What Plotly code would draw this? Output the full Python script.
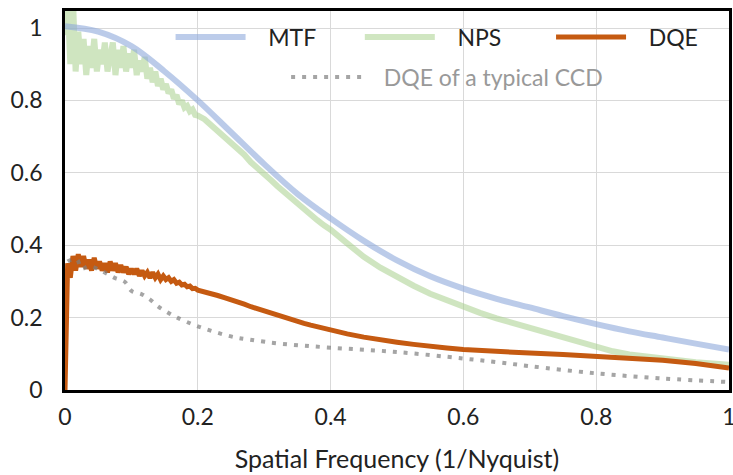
import plotly.graph_objects as go

# ---------------- data ----------------
mtf_x = [0, 0.05, 0.1, 0.15, 0.2, 0.25, 0.3, 0.35, 0.4, 0.45, 0.5, 0.55, 0.6,
         0.65, 0.7, 0.75, 0.8, 0.85, 0.9, 0.95, 1.0]
mtf_y = [1.005, 0.99, 0.95, 0.88, 0.80, 0.712, 0.624, 0.542, 0.474, 0.412, 0.358,
         0.314, 0.280, 0.252, 0.228, 0.204, 0.182, 0.162, 0.145, 0.128, 0.112]

nps_x = [0.000, 0.004, 0.008, 0.012, 0.016, 0.020, 0.024, 0.028, 0.032, 0.036,
         0.040, 0.044, 0.048, 0.052, 0.056, 0.060, 0.064, 0.068, 0.072, 0.076,
         0.080, 0.084, 0.088, 0.092, 0.096, 0.100, 0.104, 0.108, 0.112, 0.116,
         0.120, 0.124, 0.128, 0.132, 0.136, 0.140, 0.144, 0.148, 0.152, 0.156,
         0.160, 0.164, 0.168, 0.172, 0.176, 0.180, 0.184, 0.188, 0.192, 0.196,
         0.200, 0.21, 0.22, 0.23, 0.24, 0.25, 0.26, 0.27, 0.28, 0.29,
         0.30, 0.31, 0.32, 0.33, 0.34, 0.35, 0.36, 0.37, 0.38, 0.39,
         0.40, 0.425, 0.45, 0.475, 0.5, 0.525, 0.55, 0.575, 0.6, 0.625,
         0.65, 0.675, 0.7, 0.725, 0.75, 0.775, 0.8, 0.825, 0.85, 0.875,
         0.9, 0.925, 0.95, 0.975, 1.0]
nps_y = [0.98, 1.07, 0.90, 1.08, 0.88, 0.99, 0.90, 0.97, 0.87, 0.95,
         0.89, 0.97, 0.88, 0.94, 0.90, 0.96, 0.88, 0.93, 0.96, 0.87,
         0.94, 0.89, 0.95, 0.88, 0.93, 0.89, 0.94, 0.87, 0.91, 0.88,
         0.92, 0.86, 0.89, 0.85, 0.88, 0.84, 0.86, 0.83, 0.845, 0.82,
         0.83, 0.805, 0.815, 0.79, 0.80, 0.78, 0.785, 0.77, 0.775, 0.76,
         0.758, 0.748, 0.732, 0.718, 0.698, 0.686, 0.665, 0.650, 0.629, 0.614,
         0.596, 0.580, 0.563, 0.547, 0.528, 0.513, 0.498, 0.483, 0.469, 0.455,
         0.443, 0.405, 0.368, 0.338, 0.312, 0.288, 0.266, 0.247, 0.229, 0.213,
         0.198, 0.185, 0.172, 0.158, 0.145, 0.130, 0.118, 0.107, 0.098, 0.092,
         0.087, 0.082, 0.077, 0.073, 0.070]

dqe_x = [0.000, 0.002, 0.004, 0.008, 0.012, 0.016, 0.020, 0.024, 0.028, 0.032,
         0.036, 0.040, 0.044, 0.048, 0.052, 0.056, 0.060, 0.064, 0.068, 0.072,
         0.076, 0.080, 0.084, 0.088, 0.092, 0.096, 0.100, 0.104, 0.108, 0.112,
         0.116, 0.120, 0.124, 0.128, 0.132, 0.136, 0.140, 0.144, 0.148, 0.152,
         0.156, 0.160, 0.164, 0.168, 0.172, 0.176, 0.180, 0.184, 0.188, 0.192,
         0.196, 0.200, 0.21, 0.22, 0.23, 0.24, 0.25, 0.26, 0.27, 0.28,
         0.29, 0.30, 0.31, 0.32, 0.33, 0.34, 0.35, 0.36, 0.37, 0.38,
         0.39, 0.40, 0.425, 0.45, 0.475, 0.5, 0.525, 0.55, 0.575, 0.6,
         0.65, 0.7, 0.75, 0.8, 0.85, 0.9, 0.95, 1.0]
dqe_y = [0.0, 0.30, 0.35, 0.31, 0.37, 0.33, 0.375, 0.34, 0.37, 0.335,
         0.36, 0.33, 0.365, 0.335, 0.355, 0.33, 0.35, 0.325, 0.355, 0.33,
         0.35, 0.325, 0.345, 0.325, 0.34, 0.32, 0.335, 0.32, 0.335, 0.315,
         0.33, 0.315, 0.325, 0.31, 0.325, 0.31, 0.32, 0.305, 0.315, 0.305,
         0.31, 0.30, 0.305, 0.295, 0.298, 0.29, 0.292, 0.285, 0.287, 0.28,
         0.281, 0.276, 0.272, 0.266, 0.261, 0.255, 0.250, 0.244, 0.237, 0.230,
         0.224, 0.217, 0.213, 0.206, 0.201, 0.195, 0.190, 0.184, 0.179, 0.174,
         0.169, 0.165, 0.155, 0.146, 0.138, 0.132, 0.126, 0.120, 0.116, 0.112,
         0.106, 0.102, 0.098, 0.093, 0.088, 0.082, 0.073, 0.061]

ccd_x = [0.004, 0.008, 0.018, 0.025, 0.036, 0.051, 0.0625, 0.0755, 0.09, 0.1,
         0.115, 0.128, 0.14, 0.154, 0.169, 0.2, 0.25, 0.278, 0.325, 0.4,
         0.5, 0.6, 0.65, 0.7, 0.8, 0.9, 1.0]
ccd_y = [0.355, 0.359, 0.361, 0.335, 0.342, 0.333, 0.322, 0.309, 0.299, 0.274,
         0.265, 0.250, 0.231, 0.215, 0.200, 0.176, 0.148, 0.139, 0.128, 0.117,
         0.105, 0.087, 0.077, 0.066, 0.046, 0.032, 0.022]

x_ticks = [0, 0.2, 0.4, 0.6, 0.8, 1]
x_tick_labels = ["0", "0.2", "0.4", "0.6", "0.8", "1"]
y_ticks = [0, 0.2, 0.4, 0.6, 0.8, 1]
y_tick_labels = ["0", "0.2", "0.4", "0.6", "0.8", "1"]

FONT = "Lato"
PAD = "\u00a0\u00a0\u00a0"

fig = go.Figure()
fig.add_trace(go.Scatter(x=nps_x, y=nps_y, mode="lines", name=PAD + "NPS",
                         line=dict(color="#A9D18E", width=6), opacity=0.55,
                         legend="legend2", showlegend=True))
fig.add_trace(go.Scatter(x=mtf_x, y=mtf_y, mode="lines", name=PAD + "MTF",
                         line=dict(color="#8FAADC", width=6, shape="spline"), opacity=0.6,
                         legend="legend", showlegend=True))
fig.add_trace(go.Scatter(x=dqe_x, y=dqe_y, mode="lines", name=PAD + "DQE",
                         line=dict(color="#C55A11", width=5),
                         legend="legend3", showlegend=True))
fig.add_trace(go.Scatter(x=ccd_x, y=ccd_y, mode="lines", name=PAD + "DQE of a typical CCD",
                         line=dict(color="#7F7F7F", width=4, dash="4px,7px", shape="spline"),
                         opacity=0.7, legend="legend4", showlegend=True))

axis_common = dict(showline=True, linecolor="black", linewidth=2.5, mirror=True,
                   showgrid=True, gridcolor="#D9D9D9", gridwidth=1, zeroline=False,
                   automargin=False, ticklabeloverflow="allow",
                   tickfont=dict(family=FONT, size=23, color="#222"))

def leg(x, y, color="#222"):
    return dict(orientation="v", x=x, y=y, xanchor="left", yanchor="middle",
                itemwidth=70, bgcolor="rgba(0,0,0,0)", borderwidth=0,
                font=dict(family=FONT, size=23, color=color))

fig.update_layout(
    width=733, height=475,
    showlegend=True,
    margin=dict(l=65, r=4, t=11, b=85),
    paper_bgcolor="white", plot_bgcolor="white",
    font=dict(family=FONT, size=20, color="#222"),
    xaxis=dict(range=[0, 1], tickvals=x_ticks, ticktext=x_tick_labels,
               ticklabelstandoff=5,
               title=dict(text="Spatial Frequency (1/Nyquist)",
                          font=dict(family=FONT, size=25, color="#222"), standoff=22),
               **axis_common),
    yaxis=dict(range=[0, 1.047], tickvals=y_ticks, ticktext=y_tick_labels,
               ticklabelstandoff=15, **axis_common),
    legend=leg(0.159, 0.931),
    legend2=leg(0.444, 0.931),
    legend3=leg(0.732, 0.931),
    legend4=leg(0.333, 0.826, "#999999"),
)

fig.write_html("out.html", config={"displayModeBar": False},
               post_script="document.body.style.margin='0';document.body.style.padding='0';")
